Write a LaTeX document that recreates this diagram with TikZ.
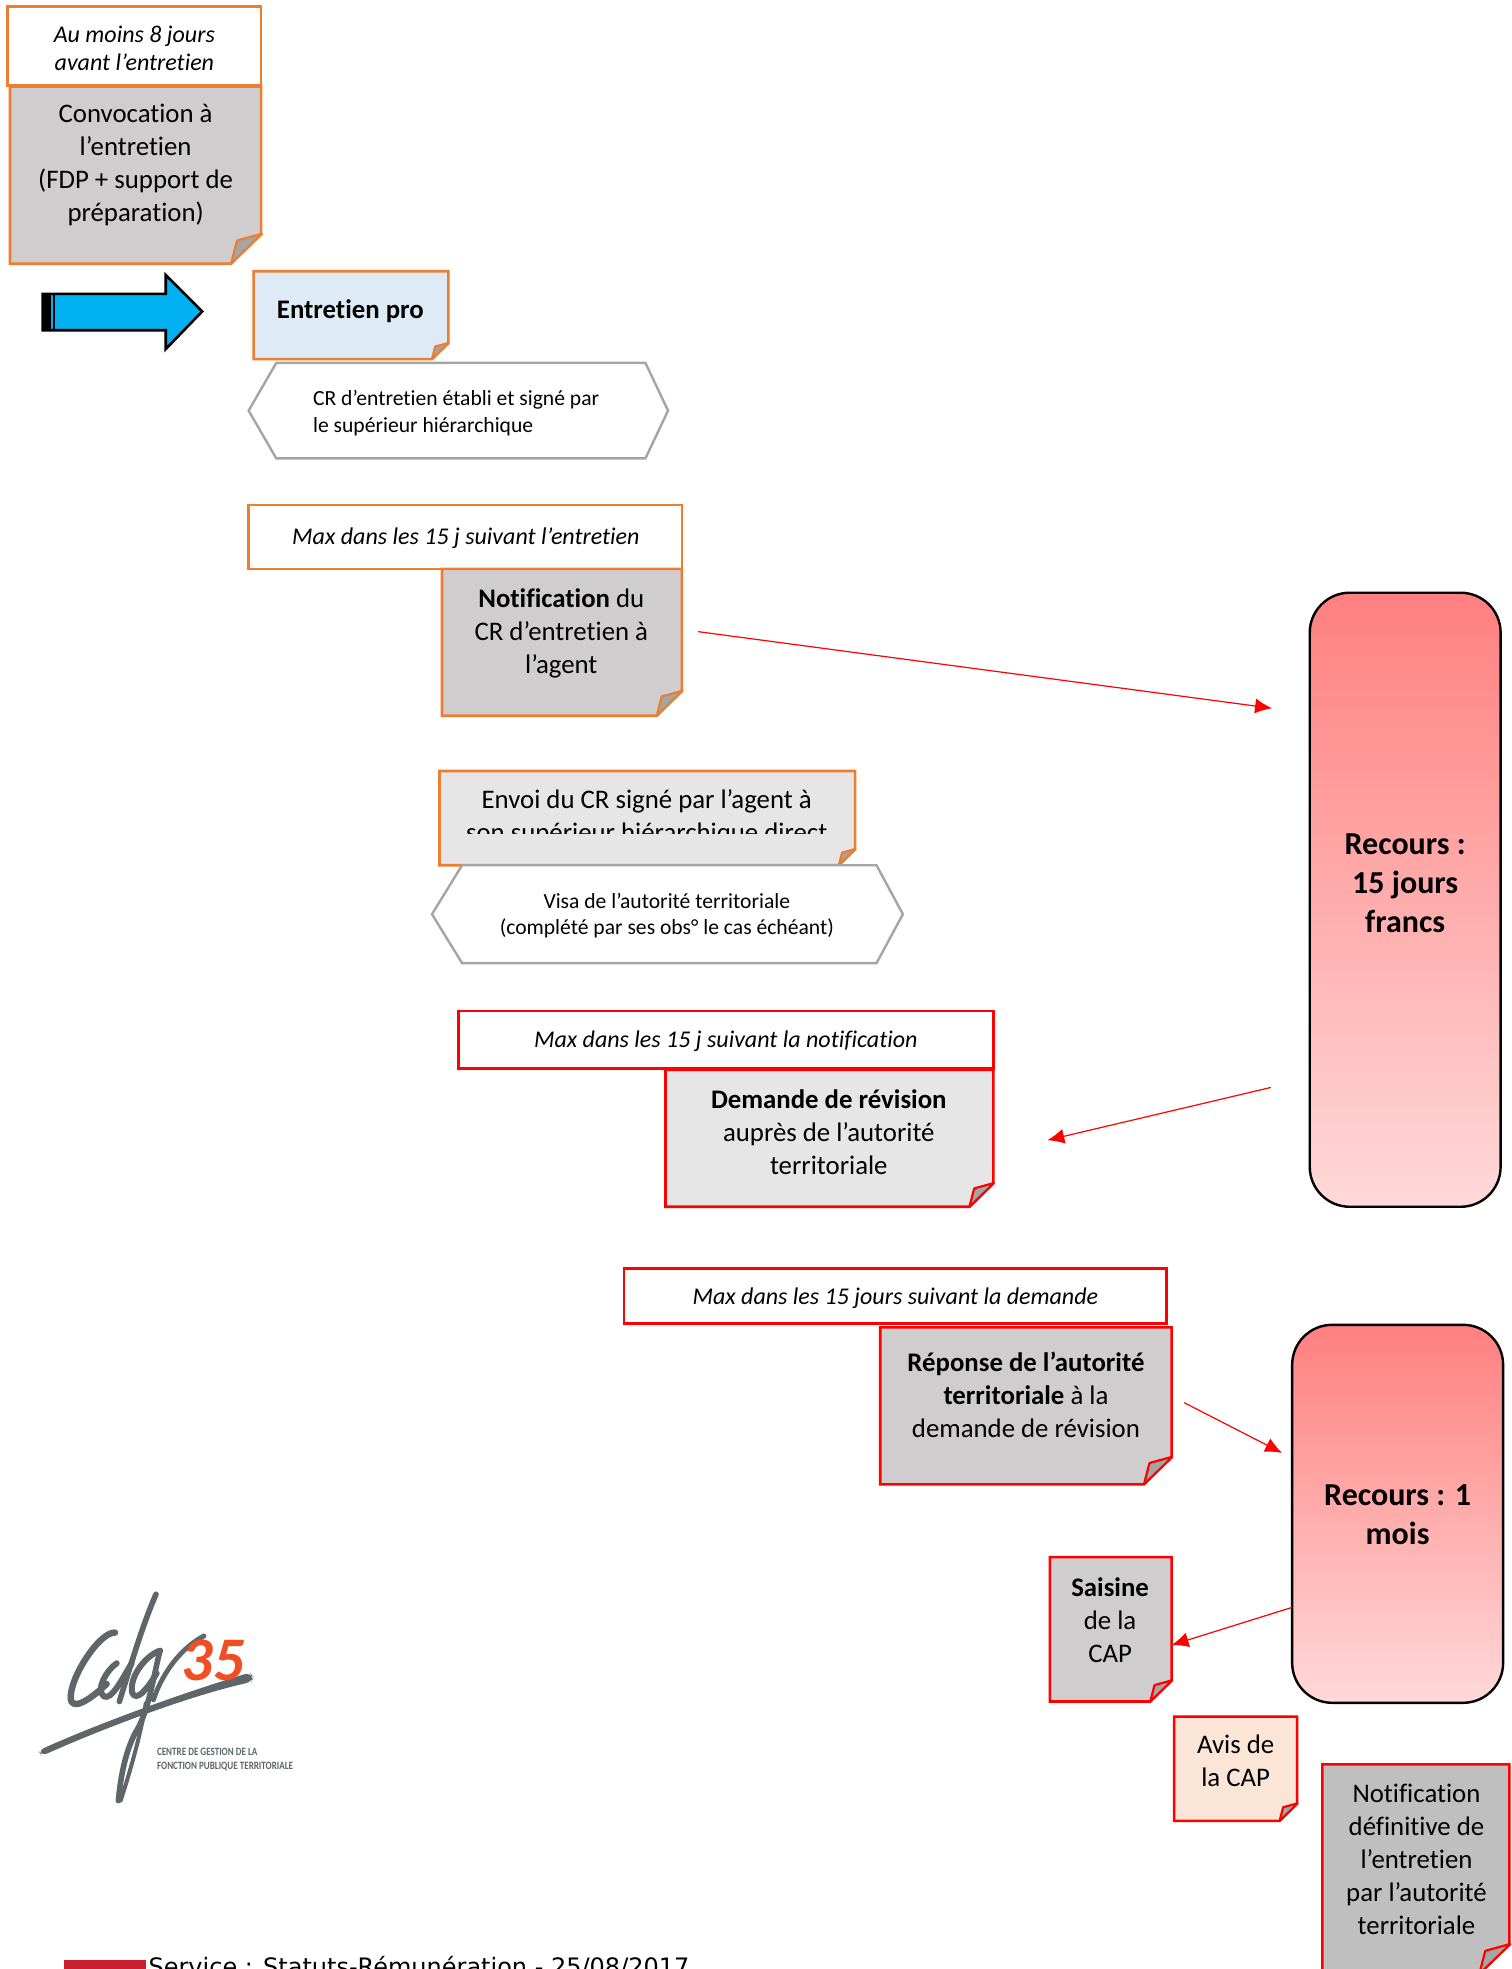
\documentclass[tikz,border=0pt]{standalone}
\usepackage{fontspec}
\setmainfont{Carlito}[Ligatures=CommonOff]
\newfontfamily\footfont{DejaVu Sans}
\usetikzlibrary{arrows.meta}
\definecolor{orng}{HTML}{ED7D31}
\definecolor{rd}{HTML}{FF0000}
\definecolor{gA}{HTML}{CFCDCE}
\definecolor{gB}{HTML}{E7E6E6}
\definecolor{gC}{HTML}{BFBFBF}
\definecolor{hexg}{HTML}{A5A5A5}
\definecolor{bluef}{HTML}{DEEAF6}
\definecolor{peach}{HTML}{FBE5D6}
\definecolor{sky}{HTML}{00B0F0}
\definecolor{logog}{HTML}{5F6669}
\definecolor{logor}{HTML}{F04E23}
\definecolor{foot}{HTML}{C8202F}
\newcommand{\fbig}{\fontsize{13.4}{16.5}\selectfont}
\newcommand{\fit}{\fontsize{12}{13.8}\selectfont\itshape}
\newcommand{\fsm}{\fontsize{10.8}{13.2}\selectfont}
\newcommand{\frec}{\fontsize{16}{19.5}\selectfont\bfseries}
% name x1 y1 x2 y2 fold stroke fill
\newcommand{\notebox}[8]{%
  \pgfmathsetmacro{\ax}{#4-#6}\pgfmathsetmacro{\by}{#5-#6}%
  \pgfmathsetmacro{\bx}{#4-0.8*#6}\pgfmathsetmacro{\cy}{#5-0.77*#6}%
  \pgfmathsetmacro{\tx}{#4+0.04*#6}%
  \draw[boxline,draw=#7,fill=#8] (#2,#3) -- (#4,#3) -- (#4,\by) -- (\ax,#5) -- (#2,#5) -- cycle;
  \draw[boxline,line width=1.1pt,line join=bevel,draw=#7,fill=hexg] (\ax,#5) -- (\bx,\cy) -- (\tx,\by) -- cycle;
  \coordinate (#1) at (#2,#3);}
\tikzset{
  boxline/.style={line width=1.3pt,line join=miter},
  plainbox/.style={line width=1.3pt,fill=white},
  hexline/.style={line width=1.2pt,draw=hexg,fill=white},
  txt/.style={align=center,inner sep=0pt,text=black},
  link/.style={draw=rd,line width=0.6pt,-{Latex[length=8.5pt,width=7.5pt]}},
  recbox/.style={draw=black,line width=1.2pt,top color=red!50,bottom color=red!15},
  stroke/.style={draw=logog,line cap=round,line join=round},
}
\begin{document}
\begin{tikzpicture}[x=0.6279pt,y=-0.6279pt]
\clip (0,0) rectangle (1204,1568);
\useasboundingbox (0,0) rectangle (1204,1568);
\fill[white] (0,0) rectangle (1204,1568);

% --- recours boxes
\path[recbox,rounded corners=20pt] (1043,472) rectangle (1195,961);
\node[txt,font=\frec] (rec1) at (1119,703) {Recours :\\15 jours\\francs};
\path[recbox,rounded corners=20pt] (1029,1055) rectangle (1197,1356);
\node[txt,font=\frec] (rec2) at (1113,1206) {Recours : 1\\mois};

% --- first column
\notebox{convo}{8}{69}{208}{210}{24}{orng}{gA}
\node[txt,font=\fbig] (convoT) at (108,131) {Convocation à\\l’entretien\\(FDP + support de\\préparation)};
\draw[plainbox,draw=orng] (6,5) rectangle (208,68);
\node[txt,font=\fit] (delay1) at (107,38.5) {Au moins 8 jours\\avant l’entretien};

% --- block arrow
\draw[draw=black,line width=1.3pt,fill=sky,line join=miter] (34,234) -- (132,234) -- (132,219) -- (161,248) -- (132,278) -- (132,263) -- (34,263) -- cycle;
\fill[black] (34,234) rectangle (41,263);
\fill[black] (42.5,234) rectangle (44,263);

\notebox{entr}{202}{216}{357}{286}{13}{orng}{bluef}
\node[txt,font=\fbig\bfseries] (entrT) at (279,247.5) {Entretien pro};

\draw[hexline] (198,327) -- (220,289) -- (514,289) -- (532,327) -- (514,365) -- (220,365) -- cycle;
\node[txt,font=\fsm,align=left,anchor=west] (hex1) at (249,329) {CR d’entretien établi et signé par\\le supérieur hiérarchique};

\draw[plainbox,draw=orng] (198,402) rectangle (543,453);
\node[txt,font=\fit] (delay2) at (371,429) {Max dans les 15 j suivant l’entretien};
\notebox{notif}{352}{453}{543}{570}{20}{orng}{gA}
\node[txt,font=\fbig] (notifT) at (447,504.5) {\textbf{Notification} du\\CR d’entretien à\\l’agent};

% --- envoi
\notebox{envoi}{350}{614}{681}{689}{13}{orng}{gB}
\begin{scope}
\clip (350,616) rectangle (681,664);
\node[txt,font=\fbig] (envoiT) at (515,651) {Envoi du CR signé par l’agent à\\son supérieur hiérarchique direct};
\end{scope}
\draw[hexline] (344,728) -- (368,689) -- (698,689) -- (719,728) -- (698,767) -- (368,767) -- cycle;
\node[txt,font=\fsm] (hex2) at (531,729) {Visa de l’autorité territoriale\\(complété par ses obs° le cas échéant)};

% --- demande
\draw[plainbox,draw=rd] (365,805) rectangle (791,851);
\node[txt,font=\fit] (delay3) at (578,829) {Max dans les 15 j suivant la notification};
\notebox{dem}{530}{852}{791}{961}{19}{rd}{gB}
\node[txt,font=\fbig] (demT) at (660,901.5) {\textbf{Demande de révision}\\auprès de l’autorité\\territoriale};

% --- reponse
\draw[plainbox,draw=rd] (497,1010) rectangle (929,1054);
\node[txt,font=\fit] (delay4) at (713,1034) {Max dans les 15 jours suivant la demande};
\notebox{rep}{701}{1057}{933}{1182}{22}{rd}{gA}
\node[txt,font=\fbig] (repT) at (817,1111) {\textbf{Réponse de l’autorité}\\\textbf{territoriale} à la\\demande de révision};

\notebox{sais}{836}{1240}{933}{1355}{17}{rd}{gA}
\node[txt,font=\fbig] (saisT) at (884,1290.5) {\textbf{Saisine}\\de la\\CAP};
\notebox{avis}{935}{1367}{1033}{1450}{14}{rd}{peach}
\node[txt,font=\fbig] (avisT) at (984,1402) {Avis de\\la CAP};
\notebox{defi}{1053}{1405}{1202}{1572}{24}{rd}{gC}
\node[txt,font=\fbig] (defiT) at (1128,1481) {Notification\\définitive de\\l’entretien\\par l’autorité\\territoriale};

% --- connectors
\coordinate (a1s) at (556,503); \coordinate (a1e) at (1013,564);
\coordinate (a2s) at (1012,866); \coordinate (a2e) at (834,908);
\coordinate (a3s) at (943,1117); \coordinate (a3e) at (1021,1157);
\coordinate (a4s) at (1029,1280); \coordinate (a4e) at (933,1310);
\draw[link] (a1s) -- (a1e);
\draw[link] (a2s) -- (a2e);
\draw[link] (a3s) -- (a3e);
\draw[link] (a4s) -- (a4e);

% --- logo
\begin{scope}[shift={(0,1242.2)},x=0.1667pt,y=-0.1667pt]
\fill[logog,rounded corners=3pt] (115,572) .. controls (240,515) and (480,420) .. (750,338) -- (760,352) -- (755,366) .. controls (560,410) and (300,510) .. (125,588) -- cycle;
\draw[stroke,line width=3.2pt] (345,218) .. controls (300,215) and (210,350) .. (212,415) .. controls (215,455) and (270,420) .. (320,372);
\draw[stroke,line width=3pt] (350,310) .. controls (320,330) and (285,390) .. (312,410) .. controls (335,420) and (365,360) .. (395,310);
\draw[stroke,line width=2.8pt] (468,103) .. controls (430,190) and (400,290) .. (358,425);
\draw[stroke,line width=3pt] (480,272) .. controls (440,285) and (385,350) .. (397,400) .. controls (410,425) and (440,390) .. (470,340);
\draw[stroke,line width=2.8pt] (480,272) .. controls (460,350) and (445,460) .. (405,520) .. controls (375,580) and (362,650) .. (355,722);
\draw[stroke,line width=2pt] (437,430) .. controls (425,510) and (395,620) .. (362,722);
\draw[stroke,line width=2.4pt] (612,228) .. controls (550,260) and (490,330) .. (460,420);
\node[txt,font=\fontsize{31}{31}\selectfont\bfseries\itshape,text=logor] (l35) at (640,300) {35};
\node[txt,font=\fontsize{5.6}{7.1}\selectfont\bfseries,text=logog,align=left,anchor=west,xscale=0.81,transform shape] (ltxt) at (470,598) {CENTRE DE GESTION DE LA\\FONCTION PUBLIQUE TERRITORIALE};
\end{scope}

% --- footer
\fill[foot] (51,1561) rectangle (116,1568);
\node[txt,font=\footfont\fontsize{12}{14}\selectfont,anchor=base west] (foottxt) at (118,1573) {Service : Statuts-Rémunération - 25/08/2017};
\end{tikzpicture}
\end{document}
